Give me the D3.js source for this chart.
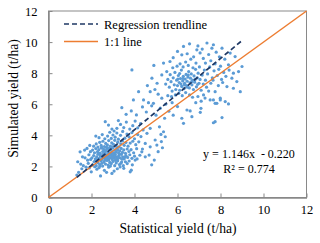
<!DOCTYPE html>
<html><head><meta charset="utf-8">
<script src="https://cdn.jsdelivr.net/npm/d3@7"></script>
<style>body{margin:0;background:#fff}svg{display:block}svg text{font-family:"Liberation Serif","Times New Roman","DejaVu Serif",serif !important;fill:#000;white-space:pre}</style>
</head><body><svg id="c" width="320" height="243"></svg>
<script>
const xTicks = [0, 2, 4, 6, 8, 10, 12];
const yTicks = [0, 2, 4, 6, 8, 10, 12];
const xTitle = "Statistical yield (t/ha)";
const yTitle = "Simulated yield (t/ha)";
const legendLabels = ["Regression trendline", "1:1 line"];
const slope = 1.146, intercept = -0.220;
const trendRange = [1.32, 9.0];
const equationLines = ["y = 1.146x  - 0.220", "R² = 0.774"];
const observations = [
[1.32,1.44],[1.40,1.62],[1.36,2.30],[1.47,2.94],[1.55,1.85],[1.62,2.05],[1.70,2.55],[1.79,3.16],[1.75,1.95],[1.85,2.20],[1.88,2.75],[1.92,3.35],[1.99,1.65],[1.96,2.45],[1.58,2.62],[1.68,3.05],[1.82,2.40],[1.50,2.15],[1.90,1.90],[1.95,2.95],
[2.42,1.39],[2.60,1.75],[2.25,1.82],[2.80,1.95],[3.05,1.70],[3.33,1.97],[3.85,1.76],[2.15,1.98],[3.50,1.88],[2.95,1.55],[2.70,1.62],[3.20,1.85],[3.80,1.65],[2.35,1.92],
[2.05,2.10],[2.12,2.30],[2.22,2.05],[2.30,2.25],[2.38,2.12],[2.45,2.35],[2.52,2.02],[2.58,2.28],[2.65,2.15],[2.72,2.38],[2.78,2.08],[2.85,2.26],[2.92,2.18],[3.00,2.32],[3.08,2.05],[3.15,2.22],[3.22,2.36],[3.30,2.12],[3.40,2.28],[3.48,2.05],[3.58,2.30],[3.66,2.18],[3.75,2.35],[3.90,2.10],[4.03,2.41],[2.48,2.20],[2.62,2.40],[2.88,2.02],[3.12,2.38],[3.36,2.20],[2.18,2.38],[2.40,2.02],
[2.02,2.55],[2.10,2.70],[2.18,2.48],[2.24,2.62],[2.30,2.78],[2.36,2.52],[2.42,2.66],[2.47,2.45],[2.53,2.72],[2.58,2.58],[2.63,2.48],[2.68,2.75],[2.73,2.62],[2.77,2.50],[2.82,2.68],[2.87,2.56],[2.91,2.78],[2.96,2.45],[3.01,2.64],[3.06,2.52],[3.11,2.76],[3.16,2.60],[3.21,2.47],[3.27,2.70],[3.33,2.55],[3.39,2.78],[3.45,2.62],[3.52,2.48],[3.60,2.70],[3.68,2.58],[3.78,2.75],[3.88,2.52],[4.00,2.66],[4.12,2.48],[4.25,2.72],[2.27,2.44],[2.50,2.60],[2.66,2.62],[2.80,2.42],[2.94,2.70],[3.08,2.68],[3.24,2.58],[3.42,2.46],[2.40,2.76],[2.56,2.80],[2.72,2.54],[2.98,2.58],[3.14,2.44],[3.30,2.80],[3.56,2.60],
[2.05,3.05],[2.14,2.88],[2.20,3.15],[2.28,2.95],[2.34,3.08],[2.40,2.85],[2.46,3.18],[2.52,2.96],[2.57,3.10],[2.62,2.86],[2.67,3.02],[2.72,3.16],[2.76,2.90],[2.81,3.06],[2.86,2.84],[2.90,3.12],[2.95,2.96],[3.00,3.18],[3.05,2.88],[3.10,3.04],[3.15,2.92],[3.20,3.14],[3.26,2.86],[3.32,3.00],[3.38,3.16],[3.44,2.90],[3.50,3.06],[3.58,2.84],[3.66,3.12],[3.74,2.96],[3.84,3.08],[3.96,2.88],[4.10,3.14],[4.34,2.94],[4.37,3.12],[4.50,2.62],[4.68,2.73],[2.32,2.84],[2.60,3.00],[2.84,3.20],[3.02,2.82],[3.22,3.04],
[2.10,3.30],[2.22,3.45],[2.30,3.25],[2.38,3.55],[2.45,3.35],[2.53,3.62],[2.60,3.28],[2.66,3.48],[2.74,3.38],[2.80,3.66],[2.88,3.30],[2.94,3.52],[3.02,3.42],[3.08,3.68],[3.14,3.34],[3.22,3.56],[3.28,3.26],[3.36,3.46],[3.44,3.64],[3.52,3.36],[3.60,3.54],[3.70,3.30],[3.80,3.50],[3.92,3.62],[4.06,3.40],[4.20,3.58],[4.50,3.48],[4.73,3.26],[2.48,3.22],[2.70,3.24],[2.98,3.24],[3.18,3.22],
[2.35,3.85],[2.50,4.05],[2.62,3.78],[2.75,3.95],[2.85,4.20],[2.92,3.80],[3.00,4.02],[3.10,3.88],[3.18,4.15],[3.25,3.75],[3.35,4.00],[3.45,4.25],[3.55,3.82],[3.65,4.08],[3.75,3.90],[3.88,4.18],[4.00,3.78],[4.15,4.05],[4.30,3.92],[4.58,4.13],[4.96,3.70],[5.04,3.37],[5.23,4.06],[5.43,3.91],[2.20,3.95],[3.05,4.28],
[2.64,4.88],[2.79,4.66],[3.18,4.45],[3.35,4.70],[3.50,4.50],[3.62,4.85],[3.78,4.40],[3.92,4.62],[4.03,4.92],[4.15,4.48],[4.28,4.75],[4.40,4.35],[4.73,4.45],[5.16,4.55],[5.35,4.23],[2.95,4.40],[3.25,4.95],
[4.92,2.41],[5.10,2.95],[5.30,3.20],[4.80,2.10],[5.25,3.60],
[3.41,5.78],[3.85,5.57],[4.37,5.83],[4.09,5.31],[3.61,5.35],[4.55,5.50],[4.80,5.90],[5.00,5.30],[5.20,5.75],[5.40,5.10],[4.65,6.10],[4.88,6.06],[5.27,6.39],[3.95,6.28],[4.42,6.28],[4.19,6.81],[4.73,6.81],[5.10,6.65],[5.45,6.00],[5.60,5.55],[5.55,6.55],[3.88,8.21],[4.90,8.50],[4.81,7.68],[5.35,8.65],[5.27,7.89],[4.60,7.20],[5.05,7.35],[4.95,6.95],
[6.28,4.77],[6.20,5.10],[6.44,5.63],[6.59,5.57],[6.67,5.20],[7.06,5.48],[7.09,5.74],[7.75,4.88],[8.07,5.14],[7.67,4.81],[5.80,5.30],[6.00,5.85],[5.75,6.10],
[5.62,7.10],[5.70,7.45],[5.75,6.85],[5.80,7.70],[5.85,7.25],[5.88,8.05],[5.92,6.95],[5.96,7.55],[6.00,7.20],[6.04,7.85],[6.08,7.40],[6.10,6.90],[6.14,7.65],[6.18,8.20],[6.20,7.15],[6.24,7.50],[6.27,7.80],[6.30,7.00],[6.33,7.35],[6.36,7.62],[6.40,7.92],[6.42,7.20],[6.45,7.48],[6.48,7.75],[6.52,8.10],[6.55,7.05],[6.58,7.38],[6.60,7.68],[6.64,7.95],[6.67,7.25],[6.70,7.55],[6.74,6.95],[6.77,7.82],[6.80,7.42],[6.84,8.25],[6.88,7.12],[6.92,7.70],[6.96,8.00],[7.00,7.35],[7.05,7.60],[7.10,6.90],[7.15,7.88],[7.20,7.30],[5.66,7.90],[5.78,8.35],[5.98,8.45],[6.12,8.60],[6.26,8.40],[6.38,8.72],[6.50,8.50],[6.62,8.90],[6.72,8.35],[6.86,8.65],[7.02,8.40],[5.90,6.60],[6.06,6.70],[6.22,6.55],[6.38,6.75],[6.56,6.60],[6.70,6.45],[5.72,6.50],[5.55,7.60],[5.50,8.10],[5.45,7.30],[6.32,7.25],[6.46,7.10],[6.16,7.30],[6.02,7.62],[6.66,7.45],[6.82,7.60],[6.94,7.28],[6.26,7.66],[6.50,7.88],[6.10,7.98],
[6.56,9.89],[6.28,9.72],[7.37,9.94],[7.60,9.61],[6.20,9.18],[6.90,9.50],[7.67,9.83],[8.07,9.61],[8.45,9.29],[8.68,9.07],[5.80,9.00],[6.00,9.40],[6.45,9.25],[6.75,9.05],[7.05,9.30],[7.20,8.95],[7.45,9.20],[7.80,9.35],[7.95,9.05],[8.20,8.90],[5.65,8.75],[7.30,8.65],[7.55,8.80],[7.75,8.60],[8.00,8.45],[8.37,8.54],[6.95,9.75],[7.15,9.55],
[7.25,8.20],[7.40,7.95],[7.50,8.40],[7.62,7.70],[7.70,8.15],[7.85,7.85],[7.92,8.25],[8.05,7.60],[8.15,8.05],[8.25,7.80],[8.40,8.20],[8.60,8.00],[8.53,7.68],[8.76,7.46],[8.84,8.10],[9.00,8.43],[8.92,6.81],[8.60,7.03],[8.30,7.14],[7.75,6.81],[7.67,6.28],[7.99,6.28],[8.22,6.17],[7.75,6.06],[7.21,6.60],[7.52,6.28],[7.99,6.39],[7.83,6.06],[8.37,6.02],[7.35,7.10],[7.55,7.35],[7.30,7.55],[7.45,6.85],[7.90,7.20],[8.10,7.40],[7.65,7.55],[7.28,6.40],[6.95,6.50],[7.10,6.20],[6.85,6.10]
];

const svg = d3.select("#c");
const L = 48.5, R = 306.5, T = 11, B = 197.5;
const x = d3.scaleLinear().domain([0, 12]).range([L, R]);
const y = d3.scaleLinear().domain([0, 12]).range([B, T]);
const axisColor = "#898989";
const FONT = "'Liberation Serif', 'Times New Roman', 'DejaVu Serif', serif";

svg.append("rect").attr("x", L).attr("y", T).attr("width", R - L).attr("height", B - T)
  .attr("fill", "none").attr("stroke", axisColor).attr("stroke-width", 1);

const gx = svg.append("g").attr("transform", `translate(0,${B})`)
  .call(d3.axisBottom(x).tickValues(xTicks).tickSizeInner(-4).tickSizeOuter(0).tickPadding(8));
const gy = svg.append("g").attr("transform", `translate(${L},0)`)
  .call(d3.axisLeft(y).tickValues(yTicks).tickSizeInner(-4).tickSizeOuter(0).tickPadding(11));
[gx, gy].forEach(g => {
  g.attr("font-family", FONT).attr("font-size", 12.5);
  g.select(".domain").attr("stroke", axisColor).attr("stroke-width", 1.5);
  g.selectAll(".tick line").attr("stroke", axisColor);
});

svg.append("g").selectAll("circle").data(observations).join("circle")
  .attr("cx", d => x(d[0])).attr("cy", d => y(d[1])).attr("r", 1.6).attr("fill", "#5b9bd5");

svg.append("line").attr("x1", x(0)).attr("y1", y(0)).attr("x2", x(12)).attr("y2", y(12))
  .attr("stroke", "#ed7d31").attr("stroke-width", 1.5);
svg.append("line")
  .attr("x1", x(trendRange[0])).attr("y1", y(slope * trendRange[0] + intercept))
  .attr("x2", x(trendRange[1])).attr("y2", y(slope * trendRange[1] + intercept))
  .attr("stroke", "#1f3864").attr("stroke-width", 1.7).attr("stroke-dasharray", "5,3");

const lg = svg.append("g").attr("font-family", FONT);
lg.append("line").attr("x1", 64).attr("x2", 98).attr("y1", 24).attr("y2", 24)
  .attr("stroke", "#1f3864").attr("stroke-width", 1.7).attr("stroke-dasharray", "5,3");
lg.append("line").attr("x1", 64).attr("x2", 98).attr("y1", 41.5).attr("y2", 41.5)
  .attr("stroke", "#ed7d31").attr("stroke-width", 1.5);
lg.selectAll("text").data(legendLabels).join("text")
  .attr("x", 104).attr("y", (d, i) => 28.5 + i * 17.5).attr("font-size", 12.5).text(d => d);

svg.append("g").attr("font-family", FONT).selectAll("text").data(equationLines).join("text")
  .attr("x", 249).attr("y", (d, i) => 157.5 + i * 15).attr("text-anchor", "middle")
  .attr("font-size", 12).text(d => d);

svg.append("text").attr("font-family", FONT).attr("x", 178).attr("y", 232.5).attr("text-anchor", "middle")
  .attr("font-size", 13.6).text(xTitle);
svg.append("text").attr("font-family", FONT).attr("transform", `translate(17.5,98.5) rotate(-90)`)
  .attr("text-anchor", "middle").attr("font-size", 13.6).text(yTitle);
</script></body></html>
